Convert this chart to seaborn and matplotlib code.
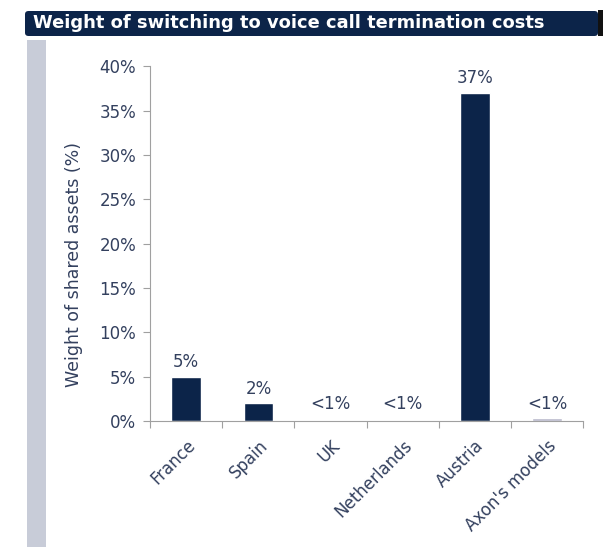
import matplotlib.pyplot as plt
import seaborn as sns
from matplotlib.patches import Rectangle, FancyBboxPatch
from matplotlib.ticker import FixedLocator, PercentFormatter

# Chart data
categories = ['France', 'Spain', 'UK', 'Netherlands', 'Austria', "Axon's models"]
values = [5, 2, 0.05, 0.05, 37, 0.35]
labels = ['5%', '2%', '<1%', '<1%', '37%', '<1%']
bar_colors = ['#0c2449', '#0c2449', '#0c2449', '#0c2449', '#0c2449', '#b9b9cb']

navy = '#0c2449'
text_col = '#33405e'
axis_col = '#a0a0a0'

sns.set_style('white')
plt.rcParams['font.family'] = ['DejaVu Sans']

fig = plt.figure(figsize=(6.03, 5.47), dpi=100)
ax = fig.add_axes([0.249, 0.230, 0.718, 0.649])

sns.barplot(x=categories, y=values, hue=categories, palette=bar_colors,
            legend=False, width=0.41, saturation=1, ax=ax)

ax.set_ylim(0, 40)
ax.set_xlim(-0.5, 5.5)
ax.set_yticks(range(0, 41, 5))
ax.yaxis.set_major_formatter(PercentFormatter(decimals=0))
ax.tick_params(axis='y', colors=axis_col, labelcolor=text_col, labelsize=12,
               length=5, width=0.8, direction='out', left=True, pad=5)
ax.tick_params(axis='x', which='major', length=0, labelcolor=text_col, labelsize=12, pad=11)
ax.xaxis.set_minor_locator(FixedLocator([i - 0.5 for i in range(7)]))
ax.tick_params(axis='x', which='minor', length=5, width=0.8, colors=axis_col, bottom=True)
plt.setp(ax.get_xticklabels(), rotation=45, ha='right', rotation_mode='anchor')

for s in ['top', 'right']:
    ax.spines[s].set_visible(False)
for s in ['left', 'bottom']:
    ax.spines[s].set_color(axis_col)
    ax.spines[s].set_linewidth(0.8)

ax.set_xlabel('')
ax.set_ylabel('Weight of shared assets (%)', color=text_col, fontsize=12.5)
ax.yaxis.set_label_coords(-0.155, 0.44)

for i, (v, lab) in enumerate(zip(values, labels)):
    ax.text(i, max(v, 0.35) + 0.6, lab, ha='center', va='bottom', color=text_col, fontsize=12)

# Title bar and left strip
fig.patches.append(FancyBboxPatch((25 / 603, 1 - 36 / 547), 573 / 603, 25 / 547,
                                  boxstyle='round,pad=0,rounding_size=0.006',
                                  transform=fig.transFigure, facecolor=navy,
                                  edgecolor='none'))
fig.patches.append(Rectangle((598 / 603, 1 - 36 / 547), 5 / 603, 26 / 547,
                             transform=fig.transFigure, facecolor='#111111',
                             edgecolor='none'))
fig.patches.append(Rectangle((27 / 603, 0), 19 / 603, 1 - 40 / 547,
                             transform=fig.transFigure, facecolor='#c8ccd8',
                             edgecolor='none'))
fig.text(33 / 603, 1 - 23 / 547, 'Weight of switching to voice call termination costs',
         color='white', fontsize=12.9, fontweight='bold', va='center', ha='left')

fig.savefig('out.png', dpi=100)
